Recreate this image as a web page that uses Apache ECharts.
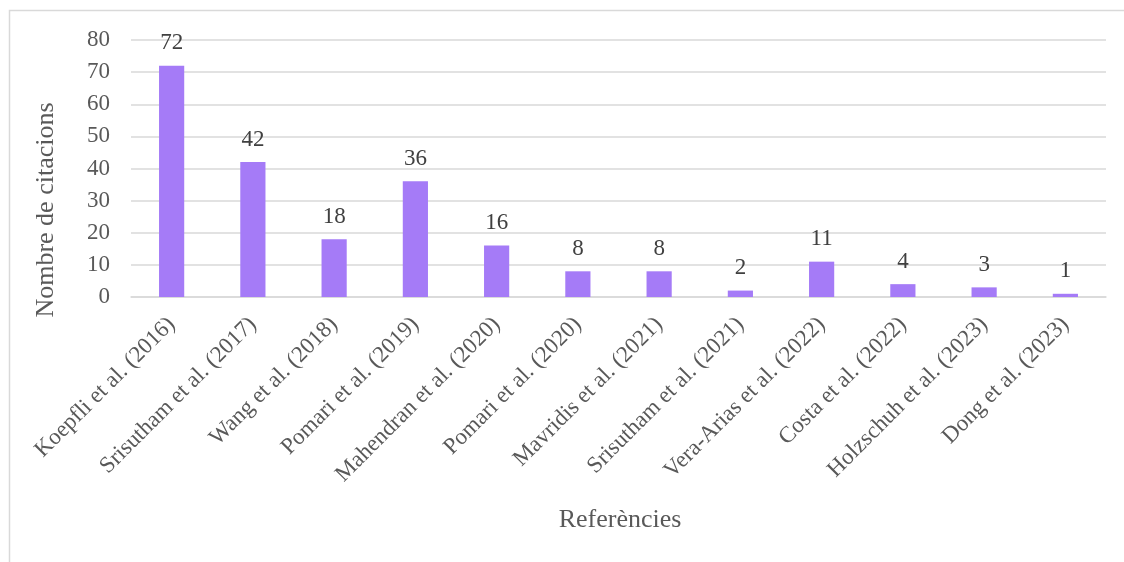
<!DOCTYPE html>
<html>
<head>
<meta charset="utf-8">
<script src="https://cdn.jsdelivr.net/npm/echarts@6/dist/echarts.min.js"></script>
<style>
  html, body { margin: 0; padding: 0; background: #fff; }
  #main { width: 1124px; height: 562px; }
</style>
</head>
<body>
<div id="main"></div>
<script>
// dades llegides del gràfic
var references = [
    'Koepfli et al. (2016)', 'Srisutham et al. (2017)', 'Wang et al. (2018)',
    'Pomari et al. (2019)', 'Mahendran et al. (2020)', 'Pomari et al. (2020)',
    'Mavridis et al. (2021)', 'Srisutham et al. (2021)', 'Vera-Arias et al. (2022)',
    'Costa et al. (2022)', 'Holzschuh et al. (2023)', 'Dong et al. (2023)'
];
var citations = [72, 42, 18, 36, 16, 8, 8, 2, 11, 4, 3, 1];
var yTicks = [0, 10, 20, 30, 40, 50, 60, 70, 80];

var font = '"Liberation Serif", "Times New Roman", serif';

window.onload = function () {
    var myChart = echarts.init(document.getElementById('main'));

    var option = {
        animation: false,
        textStyle: { fontFamily: font },
        grid: {
            left: 131,
            right: 18,
            top: 40,
            bottom: 265
        },
        graphic: [
            {
                // marc del gràfic
                type: 'rect',
                shape: { x: 9.5, y: 10.5, width: 1300, height: 700 },
                style: { fill: 'none', stroke: '#d9d9d9', lineWidth: 1.5 },
                silent: true
            },
            {
                type: 'text',
                x: 620,
                y: 520,
                style: {
                    text: 'Referències', font: '26px ' + font, fill: '#595959',
                    align: 'center', verticalAlign: 'middle'
                }
            },
            {
                type: 'text',
                x: 46,
                y: 210,
                rotation: Math.PI / 2,
                style: {
                    text: 'Nombre de citacions', font: '26px ' + font, fill: '#595959',
                    align: 'center', verticalAlign: 'middle'
                }
            }
        ],
        xAxis: {
            type: 'category',
            data: references,
            axisLine: { lineStyle: { color: '#d9d9d9', width: 1.5 } },
            axisTick: { show: false },
            axisLabel: {
                rotate: 45,
                interval: 0,
                fontSize: 23,
                color: '#595959',
                fontFamily: font,
                margin: 24
            }
        },
        yAxis: {
            type: 'value',
            min: yTicks[0],
            max: yTicks[yTicks.length - 1],
            interval: 10,
            axisLine: { show: false },
            axisTick: { show: false },
            splitLine: { lineStyle: { color: '#d9d9d9', width: 1.5 } },
            axisLabel: {
                fontSize: 23,
                color: '#595959',
                fontFamily: font,
                margin: 21
            }
        },
        series: [{
            type: 'bar',
            data: citations,
            barWidth: '31%',
            itemStyle: { color: '#a57bf7' },
            label: {
                show: true,
                position: 'top',
                distance: 11,
                fontSize: 23,
                color: '#404040',
                fontFamily: font
            }
        }]
    };
    myChart.setOption(option);
};
</script>
</body>
</html>
